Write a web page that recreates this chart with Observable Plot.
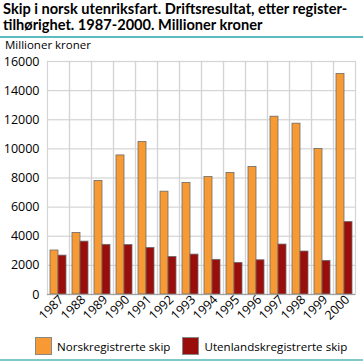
<!DOCTYPE html>
<html><head><meta charset="utf-8">
<script src="https://cdn.jsdelivr.net/npm/d3@7"></script>
<script src="https://cdn.jsdelivr.net/npm/@observablehq/plot@0.6"></script>
<style>
body{margin:0;background:#fff;font-family:"Open Sans",sans-serif;}
#wrap{position:relative;width:363px;height:362px;overflow:hidden;}
#title{position:absolute;left:3px;top:1px;font-family:Lato,sans-serif;font-weight:bold;font-size:14.6px;line-height:16px;color:#000;white-space:nowrap;}
#rule1{position:absolute;left:0;top:36px;width:363px;height:2px;background:#5bbcbf;}
#ylab{position:absolute;left:5px;top:37px;font-size:11.5px;line-height:15px;color:#000;white-space:nowrap;}
#chart{position:absolute;left:0;top:40px;}
#legend{position:absolute;left:35px;top:337px;font-size:11.6px;display:flex;align-items:center;white-space:nowrap;}
.sw{width:17px;height:18px;border:1px solid #888;box-sizing:border-box;display:inline-block;margin-right:5px;}
#rule2{position:absolute;left:0;top:359px;width:363px;height:2px;background:#7fc9c8;}
</style></head>
<body><div id="wrap">
<div id="title">Skip i norsk utenriksfart. Driftsresultat, etter register-<br>tilhørighet. 1987-2000. Millioner kroner</div>
<div id="rule1"></div>
<div id="ylab">Millioner kroner</div>
<div id="chart"></div>
<div id="legend"></div>
<div id="rule2"></div>
</div>
<script>
const years = ["1987","1988","1989","1990","1991","1992","1993","1994","1995","1996","1997","1998","1999","2000"];
const seriesNames = ["Norskregistrerte skip","Utenlandskregistrerte skip"];
const norsk = [3020,4230,7800,9550,10470,7060,7660,8070,8350,8760,12210,11730,9990,15140];
const utenlands = [2670,3630,3410,3400,3200,2580,2740,2380,2170,2350,3430,2950,2310,4980];
const colors = ["#f79a33","#990e0b"];
const yTicks = [0,2000,4000,6000,8000,10000,12000,14000,16000];

const data = [];
years.forEach((y,i)=>{
  data.push({year:y, series:seriesNames[0], value:norsk[i]});
  data.push({year:y, series:seriesNames[1], value:utenlands[i]});
});

const plot = Plot.plot({
  width:363, height:290,
  marginTop:21, marginBottom:36, marginLeft:43, marginRight:4,
  style:{fontFamily:"Open Sans, sans-serif", fontSize:"11.5px", color:"#000", background:"transparent"},
  fx:{domain:years, padding:0, label:null, axis:null},
  x:{domain:seriesNames, paddingInner:0, paddingOuter:0.36, axis:null},
  y:{domain:[0,16000], ticks:yTicks, label:null, axis:null},
  color:{domain:seriesNames, range:colors},
  marks:[
    Plot.gridY(yTicks,{stroke:"#d4d4d4", strokeOpacity:1, strokeWidth:1.2}),
    Plot.frame({anchor:"left", stroke:"#d4d4d4", strokeWidth:1.2}),
    Plot.frame({anchor:"right", stroke:"#d4d4d4", strokeWidth:1.2}),
    Plot.barY(data,{fx:"year", x:"series", y:"value", fill:"series", stroke:"#6b6b6b", strokeWidth:0.8, inset:0}),
    Plot.ruleY([0],{stroke:"#a0a0a0", strokeWidth:1.2}),
    Plot.axisY({ticks:yTicks, tickSize:0, tickPadding:8, tickFormat:d=>String(d), fontSize:12.5, label:null}),
    Plot.axisFx({anchor:"bottom", tickSize:0, tickRotate:-45, tickPadding:3, fontSize:12.5, label:null, dx:3})
  ]
});
document.getElementById("chart").appendChild(plot);

const leg = document.getElementById("legend");
seriesNames.forEach((s,i)=>{
  const item=document.createElement("span");
  item.style.display="inline-flex"; item.style.alignItems="center"; item.style.marginRight= i===0?"12px":"0";
  const sw=document.createElement("span"); sw.className="sw"; sw.style.background=colors[i];
  item.appendChild(sw); item.appendChild(document.createTextNode(s));
  leg.appendChild(item);
});
</script>
</body></html>
